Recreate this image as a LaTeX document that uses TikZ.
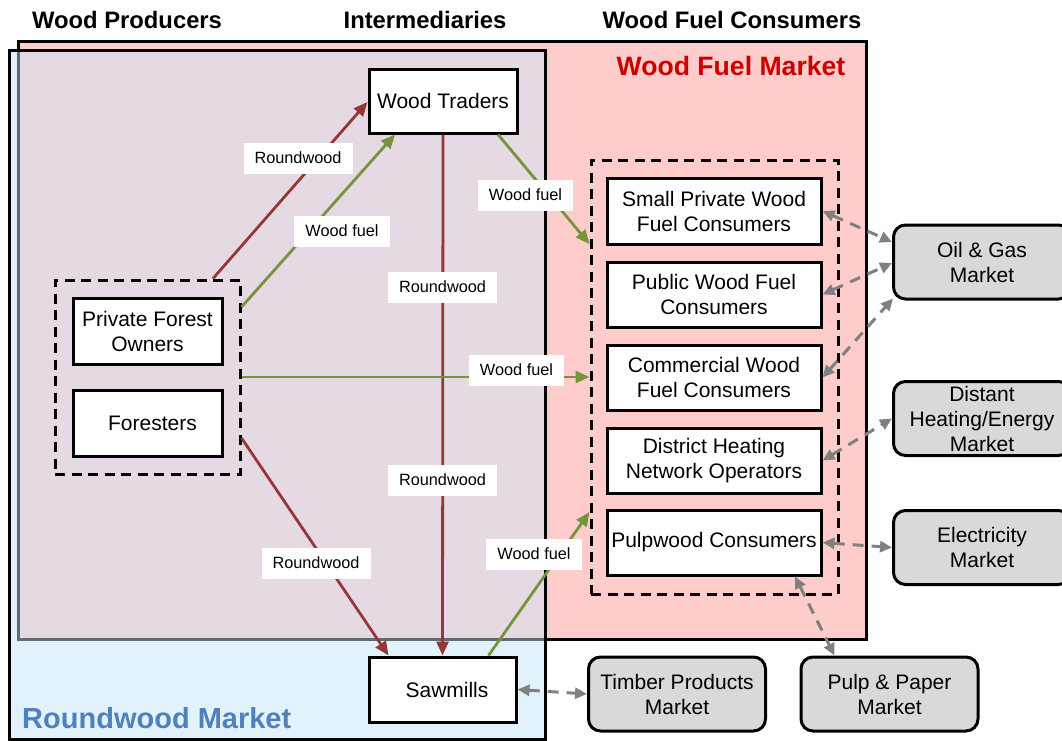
\documentclass[tikz,border=0pt]{standalone}
\usepackage{fontspec}
\setmainfont{Liberation Sans}
\usetikzlibrary{arrows.meta}
\definecolor{fuelpink}{HTML}{FFCCCC}
\definecolor{roundblue}{HTML}{E1F2FD}
\definecolor{overlapmauve}{HTML}{E5DAE4}
\definecolor{edgegray}{HTML}{5F6C76}
\definecolor{rwred}{HTML}{953735}
\definecolor{wfgreen}{HTML}{77933C}
\definecolor{mktgray}{HTML}{D9D9D9}
\definecolor{linkgray}{HTML}{808080}
\definecolor{titlered}{HTML}{CC0000}
\definecolor{titleblue}{HTML}{4F81BD}
\begin{document}
\begin{tikzpicture}[x=1pt,y=-1pt,
  actor/.style={draw, line width=3pt, fill=white, inner sep=0pt, align=center,
    font=\fontsize{21}{25}\selectfont},
  market/.style={draw, line width=3pt, fill=mktgray, rounded corners=12pt, inner sep=0pt,
    align=center, font=\fontsize{21}{25}\selectfont, minimum width=177pt, minimum height=74pt},
  group/.style={draw, line width=3pt, dash pattern=on 10pt off 6.5pt, inner sep=0pt},
  flowlabel/.style={fill=white, inner xsep=11pt, inner ysep=0pt, minimum height=31pt,
    font=\fontsize{16.3}{18}\selectfont},
  header/.style={font=\bfseries\fontsize{23.8}{27}\selectfont},
  roundflow/.style={draw=rwred, line width=2.8pt, -{Triangle[length=14pt,width=12pt]}},
  fuelflow/.style={draw=wfgreen, line width=2.8pt, -{Triangle[length=14pt,width=12pt]}},
  link/.style={draw=linkgray, line width=3pt, dash pattern=on 11pt off 8pt,
    {Triangle[length=12pt,width=11pt]}-{Triangle[length=12pt,width=11pt]}},
]
\useasboundingbox (0,0) rectangle (1062,740);
\clip (0,0) rectangle (1062,740);

% market areas
\fill[roundblue] (9,50) rectangle (545,739);
\fill[fuelpink] (18,41) rectangle (866,639);
\fill[overlapmauve] (18,50) rectangle (545,639);
\draw[line width=3pt] (18,41) rectangle (866,639);
\draw[edgegray, line width=3pt] (18,50) -- (18,639) -- (545,639);
\draw[line width=3pt] (9,50) rectangle (545,739);

% column headers and market titles
\node[header] (hprod) at (127,20) {Wood Producers};
\node[header] (hint) at (425,20) {Intermediaries};
\node[header] (hcons) at (732,20) {Wood Fuel Consumers};
\node[font=\bfseries\fontsize{26.6}{30}\selectfont, text=titlered] (tfuel) at (731,66) {Wood Fuel Market};
\node[font=\bfseries\fontsize{29}{32}\selectfont, text=titleblue, anchor=west, inner sep=0pt] (tround) at (22,718) {Roundwood Market};

% producers
\node[group, minimum width=185pt, minimum height=194pt] (prod) at (147.5,377) {};
\node[actor, minimum width=149pt, minimum height=66pt] (owners) at (147.5,331) {Private Forest\\Owners};
\node[actor, minimum width=149pt, minimum height=66pt] (foresters) at (147.5,423) {\hspace*{10pt}Foresters};

% intermediaries
\node[actor, minimum width=148pt, minimum height=64pt] (traders) at (443,101) {Wood Traders};
\node[actor, minimum width=147pt, minimum height=65pt] (sawmills) at (442.5,689.5) {\hspace*{9pt}Sawmills};

% consumers
\node[group, minimum width=247pt, minimum height=434pt] (cons) at (714.5,377) {};
\node[actor, minimum width=214pt, minimum height=66pt] (small) at (714,211) {Small Private Wood\\Fuel Consumers};
\node[actor, minimum width=214pt, minimum height=65pt] (public) at (714,294.5) {Public Wood Fuel\\Consumers};
\node[actor, minimum width=214pt, minimum height=65pt] (commercial) at (714,377.5) {Commercial Wood\\Fuel Consumers};
\node[actor, minimum width=214pt, minimum height=65pt] (district) at (714,460.5) {District Heating\\Network Operators};
\node[actor, minimum width=214pt, minimum height=65pt] (pulpwood) at (714,542.5) {Pulpwood Consumers};

% related markets
\node[market] (oilgas) at (982,262) {Oil \& Gas\\Market};
\node[market] (heating) at (982,418.5) {Distant\\Heating/Energy\\Market};
\node[market] (electricity) at (982,547.5) {Electricity\\Market};
\node[market] (timber) at (677,694) {Timber Products\\Market};
\node[market] (paper) at (889.5,694) {Pulp \& Paper\\Market};

% roundwood flows
\draw[roundflow] ([xshift=65.5pt]prod.north) -- ([yshift=-1pt]traders.west);
\draw[roundflow] (traders.south) -- (sawmills.north);
\draw[roundflow] ([yshift=-61pt]prod.east) -- ([xshift=-54pt]sawmills.north);

% wood fuel flows
\draw[fuelflow] ([yshift=70pt]prod.east) -- ([xshift=-48pt]traders.south);
\draw[fuelflow] ([xshift=55pt]traders.south) -- ([yshift=133pt]cons.west);
\draw[fuelflow] (prod.east) -- (cons.west);
\draw[fuelflow] ([xshift=46pt]sawmills.north) -- ([yshift=-135pt]cons.west);

% links to related markets
\draw[link] (small.east) -- ([yshift=20pt]oilgas.west);
\draw[link] (public.east) -- ([yshift=-1pt]oilgas.west);
\draw[link] (commercial.east) -- ([xshift=1pt,yshift=2pt]oilgas.south west);
\draw[link] (district.east) -- (heating.west);
\draw[link] (pulpwood.east) -- (electricity.west);
\draw[link] ([xshift=81pt]pulpwood.south) -- ([xshift=-55pt]paper.north);
\draw[link] (sawmills.east) -- (timber.west);

% flow labels
\node[flowlabel] (l1) at (298,158) {Roundwood};
\node[flowlabel] (l2) at (342,231) {Wood fuel};
\node[flowlabel] (l3) at (442.5,287) {Roundwood};
\node[flowlabel] (l4) at (442.5,480) {Roundwood};
\node[flowlabel] (l5) at (525.5,195) {Wood fuel};
\node[flowlabel] (l6) at (516.5,370) {Wood fuel};
\node[flowlabel] (l7) at (316,563) {Roundwood};
\node[flowlabel] (l8) at (534,554) {Wood fuel};
\end{tikzpicture}
\end{document}
